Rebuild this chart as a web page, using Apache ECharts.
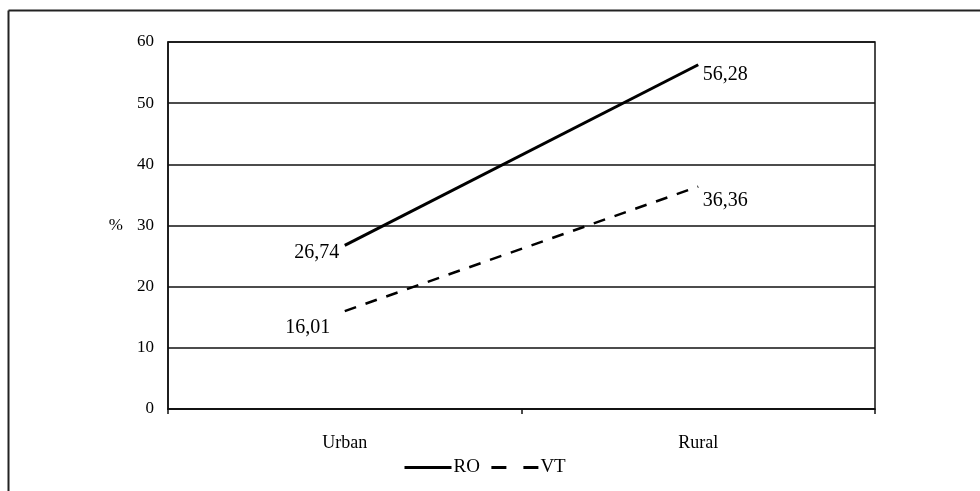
<!DOCTYPE html>
<html><head><meta charset="utf-8">
<script src="https://cdn.jsdelivr.net/npm/echarts@6/dist/echarts.min.js"></script>
<style>html,body{margin:0;padding:0;background:#fff}#c{width:980px;height:491px}</style>
</head><body><div id="c"></div>
<script>
const categories = ['Urban', 'Rural'];
const roValues = [26.74, 56.28];
const vtValues = [16.01, 36.36];
const yTicks = [0, 10, 20, 30, 40, 50, 60];

const font = '"Liberation Serif", "DejaVu Serif", serif';
const fmt = v => v.toFixed(2).replace('.', ',');

function mkData(vals, labelCfg) {
  return vals.map((v, i) => ({ value: v, label: labelCfg[i] }));
}

const chart = echarts.init(document.getElementById('c'), null, { renderer: 'canvas' });
chart.setOption({
  animation: false,
  backgroundColor: '#fff',
  textStyle: { fontFamily: font, color: '#000' },
  graphic: [
    { type: 'line', shape: { x1: 8.5, y1: 10.5, x2: 980, y2: 10.5 }, style: { stroke: '#222', lineWidth: 2 } },
    { type: 'line', shape: { x1: 8.5, y1: 10.5, x2: 8.5, y2: 491 }, style: { stroke: '#222', lineWidth: 2 } }
  ],
  grid: { left: 168, right: 105, top: 42, bottom: 82, show: true, borderColor: '#111', borderWidth: 1.5, backgroundColor: 'transparent' },
  xAxis: {
    type: 'category', data: categories, boundaryGap: true,
    axisLine: { lineStyle: { color: '#111', width: 1.5 } },
    axisTick: { show: true, length: 5, lineStyle: { color: '#111', width: 1.5 } },
    axisLabel: { color: '#000', fontFamily: font, fontSize: 18, margin: 25 }
  },
  yAxis: {
    type: 'value', min: yTicks[0], max: yTicks[yTicks.length - 1], interval: 10,
    name: '%', nameLocation: 'middle', nameGap: 45, nameRotate: 0,
    nameTextStyle: { color: '#000', fontFamily: font, fontSize: 17 },
    axisLine: { show: true, lineStyle: { color: '#111', width: 1.5 } },
    axisTick: { show: false },
    axisLabel: { color: '#000', fontFamily: font, fontSize: 17, margin: 14 },
    splitLine: { show: true, lineStyle: { color: '#111', width: 1.5 } }
  },
  legend: {
    top: 453, left: 398, itemWidth: 47, itemHeight: 18, itemGap: 10,
    itemStyle: { opacity: 0 },
    textStyle: { color: '#000', fontFamily: font, fontSize: 19, padding: [0, 0, 0, -3] },
    data: [
      { name: 'RO', lineStyle: { width: 3 } },
      { name: 'VT', lineStyle: { type: [15, 17], width: 3 } }
    ]
  },
  series: [
    {
      name: 'RO', type: 'line', symbol: 'circle', symbolSize: 1, showSymbol: true,
      lineStyle: { color: '#000', width: 3 }, itemStyle: { color: 'rgba(0,0,0,0)' },
      label: { show: true, color: '#000', fontFamily: font, fontSize: 20, formatter: p => fmt(p.value) },
      data: mkData(roValues, [
        { position: 'left', offset: [0, 7] },
        { position: 'right', offset: [-1, 10] }
      ])
    },
    {
      name: 'VT', type: 'line', symbol: 'circle', symbolSize: 1, showSymbol: true,
      lineStyle: { color: '#000', width: 2.5, type: [12, 10] }, itemStyle: { color: 'rgba(0,0,0,0)' },
      label: { show: true, color: '#000', fontFamily: font, fontSize: 20, formatter: p => fmt(p.value) },
      data: mkData(vtValues, [
        { position: 'left', offset: [-9, 17] },
        { position: 'right', offset: [-1, 14] }
      ])
    }
  ]
});
</script></body></html>
